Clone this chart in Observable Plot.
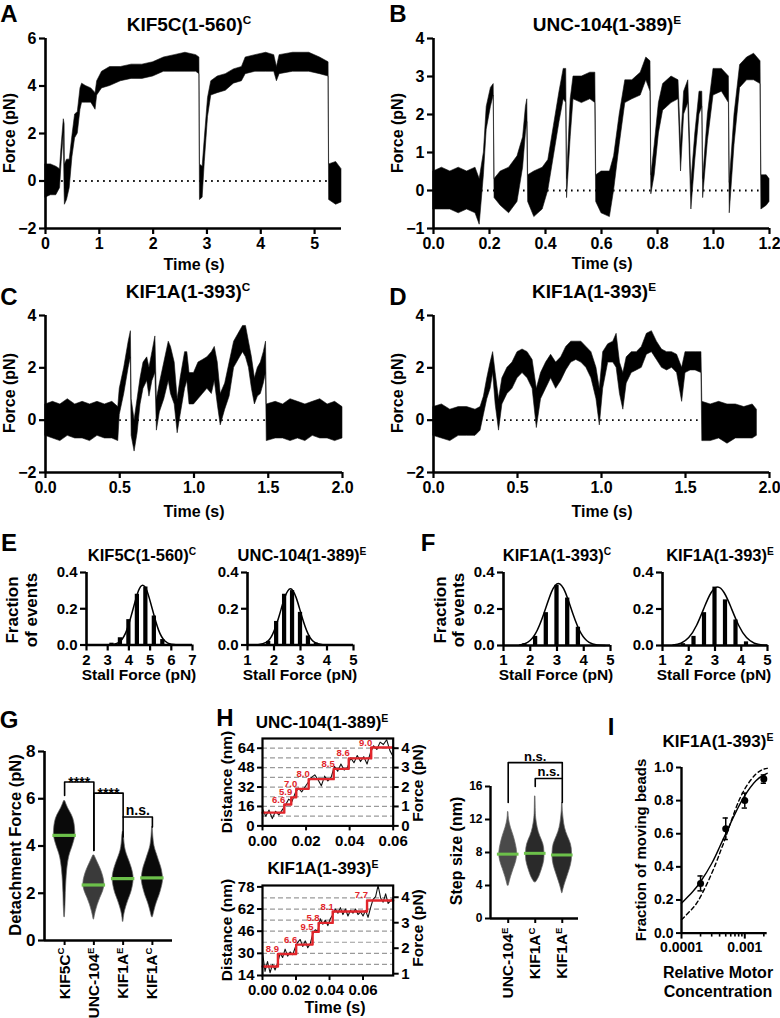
<!DOCTYPE html>
<html><head><meta charset="utf-8">
<script src="https://cdn.jsdelivr.net/npm/d3@7"></script>
<script src="https://cdn.jsdelivr.net/npm/@observablehq/plot@0.6"></script>
<style>
body{margin:0;background:#fff;}
#fig{position:relative;width:780px;height:1018px;overflow:hidden;font-family:"Liberation Sans",Arial,sans-serif;font-weight:bold;color:#000;background:#fff;}
.lbl{position:absolute;white-space:nowrap;line-height:1;}
.lbl sup{font-size:0.62em;vertical-align:0.55em;line-height:0;}
</style></head><body><div id="fig"></div>
<script>
// ---------- DATA ----------
// Panel A: KIF5C(1-560)C trace envelope (time s, lower / upper force pN)
const traceA_t  = [0,0.1,0.2,0.27,0.30,0.34,0.355,0.36,0.40,0.45,0.50,0.55,0.60,0.65,0.68,0.75,0.85,0.93,0.96,1.05,1.2,1.4,1.6,1.8,2.0,2.2,2.4,2.6,2.8,2.86,2.87,2.92,2.96,3.02,3.08,3.2,3.35,3.5,3.65,3.72,3.9,4.1,4.25,4.3,4.35,4.6,4.9,5.1,5.26,5.27,5.4,5.5];
const traceA_lo = [-0.7,-0.6,-0.6,-0.3,0.8,2.0,-0.5,-1.0,-0.8,-0.3,1.0,1.8,2.0,3.0,3.3,3.3,3.3,3.0,3.6,3.9,4.0,4.2,4.3,4.3,4.4,4.6,4.6,4.6,4.6,4.5,-0.8,-0.7,0.8,2.7,3.6,3.7,3.8,4.1,4.2,4.5,4.6,4.6,4.6,4.2,4.5,4.6,4.6,4.5,4.4,-0.8,-1.0,-0.9];
const traceA_hi = [0.7,0.7,0.6,0.5,1.5,2.6,2.4,0.7,0.9,0.9,1.9,2.8,2.9,3.9,4.1,4.0,3.9,3.7,4.2,4.6,4.8,4.8,4.9,4.9,5.0,5.2,5.3,5.4,5.3,5.2,0.7,0.6,1.8,3.5,4.2,4.4,4.5,4.7,4.8,5.2,5.3,5.4,5.3,4.8,5.3,5.4,5.4,5.2,5.0,0.7,0.8,0.5];
// Panel B: UNC-104(1-389)E
const traceB_t  = [0,0.03,0.06,0.09,0.12,0.15,0.165,0.18,0.19,0.205,0.215,0.218,0.24,0.27,0.30,0.32,0.33,0.335,0.338,0.36,0.39,0.41,0.43,0.45,0.465,0.474,0.477,0.49,0.50,0.53,0.56,0.578,0.581,0.60,0.63,0.645,0.665,0.685,0.71,0.74,0.76,0.775,0.778,0.79,0.805,0.82,0.85,0.875,0.884,0.895,0.91,0.921,0.935,0.95,0.96,0.963,0.98,1.00,1.03,1.055,1.058,1.075,1.095,1.12,1.145,1.168,1.171,1.19,1.2];
const traceB_lo = [-0.5,-0.5,-0.5,-0.6,-0.5,-0.6,-0.9,0.4,1.6,2.2,2.5,-0.2,-0.4,-0.6,-0.3,0.6,1.5,1.8,-0.3,-0.7,-0.5,0.0,0.9,1.8,2.4,2.3,-0.2,1.4,2.4,2.3,2.4,2.3,-0.3,-0.6,-0.7,0.0,1.2,2.3,2.4,2.5,2.9,2.6,-0.1,0.4,1.5,2.1,2.3,2.4,0.5,2.0,2.3,-0.5,0.8,2.0,2.2,-0.2,1.3,2.5,2.6,2.3,-0.6,1.2,2.7,2.9,2.9,2.8,-0.5,-0.4,-0.3];
const traceB_hi = [0.5,0.6,0.5,0.6,0.5,0.6,0.3,1.0,2.2,2.7,2.8,0.3,0.5,0.6,0.9,1.4,2.2,2.4,0.4,0.5,0.6,0.8,1.7,2.6,3.2,3.2,0.3,2.4,3.0,3.0,3.1,3.1,0.4,0.5,0.5,0.9,2.0,2.9,2.9,3.1,3.5,3.4,0.4,1.2,2.3,2.8,3.0,2.9,1.2,2.6,2.9,0.2,1.5,2.6,2.6,0.3,2.0,3.2,3.2,3.0,0.2,2.0,3.3,3.5,3.6,3.4,0.4,0.4,0.3];
// Panel C: KIF1A(1-393)C
const traceC_t  = [0,0.05,0.10,0.15,0.20,0.25,0.30,0.35,0.40,0.45,0.49,0.50,0.53,0.56,0.575,0.58,0.60,0.62,0.64,0.66,0.685,0.70,0.72,0.74,0.75,0.77,0.80,0.83,0.845,0.87,0.89,0.91,0.94,0.955,0.97,1.00,1.03,1.06,1.09,1.12,1.14,1.16,1.18,1.21,1.24,1.27,1.30,1.33,1.35,1.37,1.39,1.41,1.43,1.45,1.47,1.485,1.49,1.55,1.60,1.65,1.70,1.75,1.80,1.85,1.90,1.95,2.0];
const traceC_lo = [-0.6,-0.7,-0.8,-0.6,-0.7,-0.7,-0.8,-0.6,-0.7,-0.7,-0.8,0.2,1.0,2.0,2.4,-0.6,-1.2,-0.5,0.6,1.2,1.5,0.9,1.5,1.8,-0.4,0.3,0.8,1.5,1.0,0.6,-0.5,0.2,1.2,1.5,0.6,0.6,0.8,1.0,1.2,1.0,1.5,0.6,-0.2,0.4,0.9,2.0,2.3,2.6,2.4,2.0,1.2,0.6,0.9,1.0,1.4,1.8,-0.8,-0.7,-0.7,-0.8,-0.7,-0.8,-0.6,-0.7,-0.7,-0.8,-0.7];
const traceC_hi = [0.6,0.7,0.6,0.8,0.6,0.7,0.6,0.7,0.6,0.7,0.5,1.2,2.0,3.0,3.4,0.8,0.0,0.8,1.6,2.2,2.4,2.0,2.6,3.2,0.8,1.4,2.2,3.0,2.8,2.2,0.8,1.6,2.6,2.6,1.8,1.8,2.2,2.3,2.4,2.6,2.8,2.2,1.0,1.4,2.2,3.0,3.3,3.6,3.6,3.0,2.4,1.6,2.0,2.2,2.6,3.0,0.6,0.7,0.6,0.8,0.7,0.6,0.7,0.8,0.6,0.7,0.5];
// Panel D: KIF1A(1-393)E
const traceD_t  = [0,0.05,0.10,0.15,0.20,0.25,0.28,0.30,0.32,0.34,0.355,0.37,0.39,0.41,0.44,0.47,0.50,0.53,0.56,0.59,0.615,0.64,0.67,0.70,0.73,0.76,0.79,0.82,0.85,0.88,0.91,0.94,0.97,0.99,1.01,1.04,1.07,1.09,1.11,1.13,1.15,1.18,1.21,1.24,1.27,1.30,1.33,1.36,1.39,1.42,1.45,1.48,1.50,1.53,1.56,1.595,1.60,1.65,1.70,1.75,1.80,1.85,1.90,1.925];
const traceD_lo = [-0.6,-0.7,-0.8,-0.6,-0.6,-0.6,-0.4,0.2,0.8,1.2,1.8,0.6,-0.4,0.6,1.0,1.2,1.6,1.8,1.6,1.2,-0.3,0.8,1.2,1.6,1.2,1.5,1.9,2.2,2.3,2.2,2.0,1.6,0.8,-0.2,1.2,2.2,2.2,2.0,1.0,0.4,1.4,1.8,1.9,2.0,2.5,2.6,2.3,2.0,1.9,2.0,1.8,0.7,1.8,1.9,1.9,1.8,-0.8,-0.8,-0.7,-0.9,-0.7,-0.7,-0.7,-0.6];
const traceD_hi = [0.5,0.6,0.4,0.5,0.5,0.4,0.5,0.9,1.6,2.2,2.6,1.8,0.8,1.6,2.0,2.2,2.6,2.7,2.6,2.3,1.2,1.8,2.2,2.5,2.2,2.4,2.8,3.0,3.0,3.0,2.8,2.6,2.0,1.2,2.6,2.9,3.0,3.3,2.2,1.8,2.4,2.6,2.6,2.8,3.3,3.4,3.0,2.7,2.6,2.6,2.5,2.0,2.6,2.6,2.6,2.6,0.7,0.6,0.7,0.6,0.6,0.5,0.6,0.4];
// dotted zero-line spans
const zeroA = [0.3, 5.26], zeroB = [0.15, 1.2], zeroC = [0.5, 1.49], zeroD = [0.28, 1.6];

// Panels E/F: stall force histograms (bin centre, fraction) and Gaussian fit points
const histE1_x = [3.2,3.6,4.0,4.4,4.8,5.2,5.6], histE1_f = [0.01,0.04,0.14,0.28,0.32,0.16,0.03];
const fitE1_x = [3.0,3.3,3.6,3.9,4.2,4.45,4.65,4.85,5.1,5.4,5.7,6.0,6.3], fitE1_y = [0.0004,0.0037,0.0217,0.082,0.200,0.299,0.33,0.299,0.200,0.082,0.0217,0.0037,0.0004];
const histE2_x = [1.8,2.1,2.4,2.7,3.0,3.3,3.6], histE2_f = [0.02,0.13,0.28,0.30,0.18,0.05,0.01];
const fitE2_x = [1.4,1.7,1.95,2.2,2.4,2.62,2.84,3.04,3.29,3.54,3.84], fitE2_y = [0.0014,0.0141,0.060,0.163,0.260,0.31,0.260,0.163,0.060,0.0141,0.0014];
const histF1_x = [1.8,2.2,2.6,3.0,3.4,3.8], histF1_f = [0.01,0.05,0.18,0.33,0.26,0.10];
const fitF1_x = [1.6,1.9,2.2,2.5,2.8,3.05,3.3,3.6,3.9,4.2,4.5,4.8], fitF1_y = [0.0029,0.017,0.066,0.171,0.295,0.34,0.295,0.171,0.066,0.017,0.0029,0.0003];
const histF2_x = [1.8,2.2,2.6,3.0,3.4,3.8,4.2], histF2_f = [0.01,0.05,0.18,0.32,0.25,0.14,0.02];
const fitF2_x = [1.4,1.7,2.0,2.3,2.6,2.85,3.1,3.35,3.6,3.9,4.2,4.5,4.8,5.0], fitF2_y = [0.0027,0.0125,0.0433,0.111,0.212,0.289,0.32,0.289,0.212,0.111,0.0433,0.0125,0.0027,0.0009];

// Panel G: detachment force distributions (value pN, half-width in category units)
const catsG = ["KIF5C","UNC-104","KIF1A","KIF1A"], supsG = ["C","E","E","C"];
const violinG = [
  [[1.0,0.01],[1.5,0.03],[2.0,0.04],[2.5,0.06],[3.0,0.09],[3.5,0.15],[3.8,0.22],[4.1,0.3],[4.4,0.36],[4.7,0.36],[5.0,0.33],[5.3,0.25],[5.6,0.12],[5.9,0.02]],
  [[0.9,0.01],[1.2,0.06],[1.5,0.13],[1.8,0.22],[2.1,0.32],[2.4,0.36],[2.7,0.32],[3.0,0.24],[3.3,0.13],[3.6,0.02]],
  [[0.8,0.01],[1.1,0.04],[1.4,0.1],[1.7,0.18],[2.0,0.27],[2.3,0.33],[2.6,0.36],[2.9,0.33],[3.2,0.26],[3.5,0.17],[3.8,0.09],[4.1,0.05],[4.4,0.03],[4.6,0.01]],
  [[1.0,0.02],[1.3,0.08],[1.6,0.15],[1.9,0.24],[2.2,0.31],[2.5,0.36],[2.8,0.35],[3.1,0.3],[3.4,0.22],[3.7,0.14],[4.0,0.07],[4.4,0.03],[4.8,0.01]]
];
const medianG = [4.45, 2.35, 2.62, 2.65];
const brG_from = [1,2,3], brG_to = [2,3,4], brG_top = [6.71,6.24,5.23], brG_legL = [6.14,3.81,4.38], brG_legR = [3.81,5.23,4.8], brG_text = ["****","****","n.s."];

// Panel H: step traces (time s, distance nm) and step fits
const hTopT = [0,0.0015,0.003,0.0045,0.006,0.0075,0.009,0.0105,0.012,0.0135,0.015,0.0165,0.018,0.0195,0.021,0.0225,0.024,0.0255,0.027,0.0285,0.03,0.0315,0.033,0.0345,0.036,0.0375,0.039,0.0405,0.042,0.0435,0.045,0.0465,0.048,0.0495,0.051,0.0525,0.054,0.0555,0.057,0.0585,0.06];
const hTopD = [14,8,13,6,12,9,13,17,22,20,27,31,28,32,36,40,42,38,33,41,37,40,49,45,51,46,48,56,52,58,53,57,51,60,66,63,69,67,71,62,57];
const stepTopT = [0.0100,0.0132,0.0155,0.0212,0.0327,0.0396,0.0499];
const stepTopSize = [6.6,5.9,7.0,8.0,8.5,8.6,9.0];
const stepTopLevel = [10.9,17.6,23.5,30.5,38.5,47.0,55.6,64.6];
const gridTop = [8,16,24,32,40,48,56,64];
const hBotT = [0,0.0015,0.003,0.0045,0.006,0.0075,0.009,0.0105,0.012,0.0135,0.015,0.0165,0.018,0.0195,0.021,0.0225,0.024,0.0255,0.027,0.0285,0.03,0.0315,0.033,0.0345,0.036,0.0375,0.039,0.0405,0.042,0.0435,0.045,0.0465,0.048,0.0495,0.051,0.0525,0.054,0.0555,0.057,0.0585,0.06,0.0615,0.063,0.0645,0.066,0.0675,0.069,0.0705,0.072,0.0735,0.075,0.078];
const hBotD = [31,17,24,16,22,18,23,30,27,33,28,31,29,34,38,40,35,39,34,37,44,47,46,55,51,54,50,55,58,62,59,63,58,62,57,61,59,62,58,60,57,61,56,63,69,71,79,70,67,73,66,70];
const stepBotT = [0.0092,0.0201,0.0299,0.0335,0.0419,0.0624];
const stepBotSize = [8.9,6.6,9.5,5.8,8.1,7.7];
const stepBotLevel = [20.5,29.5,36.3,45.5,52.0,60.2,68.2];
const gridBot = [22,30,38,46,54,62,70];

// Step-size panel
const catsS = ["UNC-104","KIF1A","KIF1A"], supsS = ["E","C","E"];
const violinS = [
  [[4.0,0.02],[5.0,0.1],[6.0,0.2],[7.0,0.3],[8.0,0.33],[9.0,0.28],[10.0,0.2],[11.0,0.1],[12.0,0.03],[12.9,0.01]],
  [[4.4,0.03],[5.0,0.14],[6.0,0.25],[7.0,0.33],[8.0,0.34],[9.0,0.3],[10.0,0.18],[11.0,0.09],[12.0,0.04],[13.0,0.02],[14.8,0.01]],
  [[3.1,0.01],[4.0,0.08],[5.0,0.18],[6.0,0.28],[7.0,0.35],[8.0,0.36],[9.0,0.32],[10.0,0.2],[11.0,0.1],[12.0,0.05],[13.0,0.02],[14.0,0.01]]
];
const medianS = [7.8, 7.9, 7.7];
const brS_from = [1,2], brS_to = [3,3], brS_top = [18.9,16.97], brS_legL = [14.06,16.0], brS_legR = [16.97,14.06], brS_text = ["n.s.","n.s."];

// Panel I
const concI = [0.0002,0.0005,0.001,0.002], fracI = [0.30,0.63,0.80,0.93], errI = [0.045,0.065,0.045,0.025];
const fitSolid_x = [0.0001,0.00015,0.0002,0.0003,0.0004,0.0005,0.0007,0.001,0.0015,0.002,0.00226];
const fitSolid_y = [0.18,0.25,0.31,0.42,0.52,0.60,0.72,0.83,0.92,0.955,0.965];
const fitDash_x = [0.0001,0.00015,0.0002,0.0003,0.0004,0.0005,0.0007,0.001,0.0015,0.002,0.00226];
const fitDash_y = [0.08,0.15,0.22,0.36,0.48,0.58,0.74,0.87,0.96,0.99,0.995];
const majorTicksI = [0.0001,0.001], majorLabelsI = ["0.0001","0.001"];
const minorTicksI = [0.0002,0.0003,0.0004,0.0005,0.0006,0.0007,0.0008,0.0009,0.002];

// ---------- HELPERS ----------
const FONT = '"Liberation Sans", Arial, sans-serif';
const RED = "#e1252b", GREEN = "#6cc04a";
const fig = document.getElementById("fig");
function place(o) {
  const m = 80;
  const W = o.x1 - o.x0, H = o.y1 - o.y0;
  const svg = Plot.plot({
    width: W + 2*m, height: H + 2*m,
    marginLeft: m, marginRight: m, marginTop: m, marginBottom: m,
    x: o.x, y: o.y,
    style: {fontFamily: FONT, fontWeight: "bold", fontSize: o.fs + "px", background: "transparent", overflow: "visible", color: "#000"},
    marks: o.marks
  });
  svg.style.position = "absolute";
  svg.style.left = (o.x0 - m) + "px";
  svg.style.top = (o.y0 - m) + "px";
  svg.style.maxWidth = "none";
  fig.appendChild(svg);
  return svg;
}
function lbl(html, cx, cy, size, rot) {
  const d = document.createElement("div");
  d.className = "lbl";
  d.innerHTML = html;
  d.style.left = cx + "px"; d.style.top = cy + "px"; d.style.fontSize = size + "px";
  d.style.transform = "translate(-50%,-50%)" + (rot ? " rotate(-90deg)" : "");
  fig.appendChild(d);
}
function letter(ch, x, y) {
  const d = document.createElement("div");
  d.className = "lbl"; d.textContent = ch;
  d.style.left = x + "px"; d.style.top = y + "px"; d.style.fontSize = "24px";
  d.style.transform = "translate(-50%,-50%)";
  fig.appendChild(d);
}
const rows3 = (t, a, b) => t.map((v, i) => ({t: v, lo: a[i], hi: b[i]}));
const rows2 = (x, y) => x.map((v, i) => ({x: v, y: y[i]}));
const AX = 2.6;
function axes(xmin, ymin, xt, yt, xf, yf) {
  return [
    Plot.axisX({ticks: xt, tickFormat: xf, tickSize: 6, tickPadding: 3, strokeWidth: 2.2, label: null}),
    Plot.axisY({ticks: yt, tickFormat: yf, tickSize: 6, tickPadding: 3, strokeWidth: 2.2, label: null}),
    Plot.ruleX([xmin], {strokeWidth: AX}),
    Plot.ruleY([ymin], {strokeWidth: AX})
  ];
}
function addSups(svg, sups) {
  const texts = svg.querySelectorAll('g[aria-label="x-axis tick label"] text');
  texts.forEach((t, i) => {
    const ts = document.createElementNS("http://www.w3.org/2000/svg", "tspan");
    ts.textContent = sups[i];
    ts.setAttribute("dy", "-0.55em");
    ts.setAttribute("font-size", "0.62em");
    t.appendChild(ts);
  });
}
const f1 = d3.format(".1f"), f2 = d3.format(".2f"), f0 = d3.format("d");

// ---------- PANELS A-D ----------
function tracePanel(box, t, lo, hi, xd, yd, xt, yt, xf, zero) {
  place({
    ...box, fs: 16,
    x: {domain: xd}, y: {domain: yd},
    marks: [
      Plot.ruleY([{y: 0, a: zero[0], b: zero[1]}], {y: "y", x1: "a", x2: "b", strokeDasharray: "1.6,4.4", strokeWidth: 1.8}),
      Plot.areaY(rows3(t, lo, hi), {x: "t", y1: "lo", y2: "hi", fill: "#000", stroke: "#111", strokeWidth: 0.6}),
      ...axes(xd[0], yd[0], xt, yt, xf, f0)
    ]
  });
}
tracePanel({x0: 45, x1: 341, y0: 38, y1: 228}, traceA_t, traceA_lo, traceA_hi, [0, 5.5], [-2, 6], [0,1,2,3,4,5], [-2,0,2,4,6], f0, zeroA);
tracePanel({x0: 433, x1: 769, y0: 38, y1: 228}, traceB_t, traceB_lo, traceB_hi, [0, 1.2], [-1, 4], [0,0.2,0.4,0.6,0.8,1.0,1.2], [-1,0,1,2,3,4], f1, zeroB);
tracePanel({x0: 45, x1: 342, y0: 315, y1: 472}, traceC_t, traceC_lo, traceC_hi, [0, 2], [-2, 4], [0,0.5,1,1.5,2], [-2,0,2,4], f1, zeroC);
tracePanel({x0: 433, x1: 769, y0: 315, y1: 472}, traceD_t, traceD_lo, traceD_hi, [0, 2], [-2, 4], [0,0.5,1,1.5,2], [-2,0,2,4], f1, zeroD);

// ---------- PANELS E/F ----------
function histPanel(box, hx, hf, fx, fy, xd, xt, bw) {
  place({
    ...box, fs: 15,
    x: {domain: xd}, y: {domain: [0, 0.4]},
    marks: [
      Plot.rect(rows2(hx, hf), {x1: d => d.x - bw, x2: d => d.x + bw, y1: 0, y2: "y", fill: "#000"}),
      Plot.line(rows2(fx, fy), {x: "x", y: "y", curve: "natural", strokeWidth: 1.5}),
      ...axes(xd[0], 0, xt, [0, 0.2, 0.4], f0, f1)
    ]
  });
}
histPanel({x0: 86, x1: 192, y0: 572, y1: 644.5}, histE1_x, histE1_f, fitE1_x, fitE1_y, [2, 7], [2,3,4,5,6,7], 0.1);
histPanel({x0: 247, x1: 353, y0: 572, y1: 644.5}, histE2_x, histE2_f, fitE2_x, fitE2_y, [1, 5], [1,2,3,4,5], 0.08);
histPanel({x0: 503, x1: 610, y0: 572, y1: 645}, histF1_x, histF1_f, fitF1_x, fitF1_y, [1, 5], [1,2,3,4,5], 0.08);
histPanel({x0: 662, x1: 767, y0: 572, y1: 645}, histF2_x, histF2_f, fitF2_x, fitF2_y, [1, 5], [1,2,3,4,5], 0.08);

// ---------- violin + bracket helpers ----------
function violins(profiles, fills) {
  return profiles.map((p, i) => Plot.areaX(p.map(([v, w]) => ({v, w})), {
    y: "v", x1: d => (i + 1) - d.w, x2: d => (i + 1) + d.w, fill: fills[i], stroke: "#666", strokeWidth: 0.7, curve: "natural"
  }));
}
function brackets(from, to, top, legL, legR, text, fsz) {
  const pts = [];
  from.forEach((f, i) => {
    pts.push({id: i, x: f, y: legL[i]}, {id: i, x: f, y: top[i]}, {id: i, x: to[i], y: top[i]}, {id: i, x: to[i], y: legR[i]});
  });
  const idx = from.map((_, i) => i);
  const star = idx.filter(i => text[i].startsWith("*")), ns = idx.filter(i => !text[i].startsWith("*"));
  return [
    Plot.line(pts, {x: "x", y: "y", z: "id", strokeWidth: 1.6}),
    Plot.text(star, {x: i => (from[i] + to[i]) / 2, y: i => top[i], text: i => text[i], lineAnchor: "bottom", dy: 5, fontSize: fsz}),
    Plot.text(ns, {x: i => (from[i] + to[i]) / 2, y: i => top[i], text: i => text[i], lineAnchor: "bottom", dy: -2, fontSize: fsz})
  ];
}

// ---------- PANEL G ----------
const svgG = place({
  x0: 44, x1: 172, y0: 751, y1: 940, fs: 17,
  x: {domain: [0.313, 4.687]}, y: {domain: [0, 8]},
  marks: [
    ...violins(violinG, ["#0a0a0a", "#3a3a3a", "#0a0a0a", "#0a0a0a"]),
    Plot.ruleY(medianG.map((m, i) => ({m, c: i + 1})), {y: "m", x1: d => d.c - 0.4, x2: d => d.c + 0.4, stroke: GREEN, strokeWidth: 3.2}),
    ...brackets(brG_from, brG_to, brG_top, brG_legL, brG_legR, brG_text, 14),
    Plot.axisX({ticks: [1,2,3,4], tickFormat: d => catsG[d - 1], tickRotate: -90, tickSize: 5, tickPadding: 2, strokeWidth: 2, fontSize: 15.5, label: null}),
    Plot.axisY({ticks: [0,2,4,6,8], tickFormat: f0, tickSize: 6, tickPadding: 3, strokeWidth: 2.2, label: null}),
    Plot.ruleX([0.313], {strokeWidth: AX}),
    Plot.ruleY([0], {strokeWidth: AX})
  ]
});
addSups(svgG, supsG);

// ---------- PANEL H ----------
function stepPanel(box, xd, yd, trT, trD, sT, sSize, sLevel, grid, yt, fd, ft, xt) {
  const fit = [{t: xd[0], d: sLevel[0]}, ...sT.map((t, i) => ({t, d: sLevel[i + 1]})), {t: xd[1], d: sLevel[sLevel.length - 1]}];
  const labs = sT.map((t, i) => ({t, d: sLevel[i + 1], s: sSize[i]}));
  place({
    ...box, fs: 15,
    x: {domain: xd}, y: {domain: yd},
    marks: [
      Plot.ruleY(grid, {stroke: "#9a9a9a", strokeDasharray: "5,3", strokeWidth: 1.2}),
      Plot.line(rows2(trT, trD), {x: "x", y: "y", strokeWidth: 1.1, stroke: "#111"}),
      Plot.line(fit, {x: "t", y: "d", curve: "step-after", stroke: RED, strokeWidth: 2.4}),
      Plot.text(labs, {x: "t", y: "d", text: d => f1(d.s), textAnchor: "end", dx: 1, dy: -5, fill: RED, fontSize: 9.5}),
      Plot.frame({strokeWidth: 2.2}),
      Plot.axisX({ticks: xt, tickFormat: f2, tickSize: 5, tickPadding: 4, strokeWidth: 2, label: null}),
      Plot.axisY({ticks: yt, tickFormat: f0, tickSize: 5, tickPadding: 3, strokeWidth: 2, label: null})
    ]
  });
  // right-hand force axis (same pixel range, force scale)
  place({
    ...box, fs: 15,
    y: {domain: fd},
    marks: [Plot.axisY({anchor: "right", ticks: ft, tickFormat: f0, tickSize: 5, tickPadding: 3, strokeWidth: 2, label: null})]
  });
}
stepPanel({x0: 262, x1: 392.7, y0: 738.3, y1: 825.7}, [0, 0.06], [0, 72], hTopT, hTopD, stepTopT, stepTopSize, stepTopLevel, gridTop, [0,16,32,48,64], [0, 4.5], [0,1,2,3,4], [0,0.02,0.04,0.06]);
stepPanel({x0: 262, x1: 392.7, y0: 885, y1: 975}, [0, 0.078], [14, 79], hBotT, hBotD, stepBotT, stepBotSize, stepBotLevel, gridBot, [14,30,46,62,78], [0.93, 4.46], [1,2,3,4], [0,0.02,0.04,0.06]);

// ---------- STEP SIZE PANEL ----------
const svgS = place({
  x0: 490, x1: 578, y0: 785.7, y1: 917.7, fs: 12,
  x: {domain: [0.345, 3.6]}, y: {domain: [0, 16]},
  marks: [
    ...violins(violinS, ["#4a4a4a", "#2a2a2a", "#2a2a2a"]),
    Plot.ruleY(medianS.map((m, i) => ({m, c: i + 1})), {y: "m", x1: d => d.c - 0.4, x2: d => d.c + 0.4, stroke: GREEN, strokeWidth: 3}),
    ...brackets(brS_from, brS_to, brS_top, brS_legL, brS_legR, brS_text, 13),
    Plot.axisX({ticks: [1,2,3], tickFormat: d => catsS[d - 1], tickRotate: -90, tickSize: 5, tickPadding: 4, strokeWidth: 2, fontSize: 15.5, label: null}),
    Plot.axisY({ticks: [0,4,8,12,16], tickFormat: f0, tickSize: 5, tickPadding: 3, strokeWidth: 2, label: null}),
    Plot.ruleX([0.345], {strokeWidth: 2.4}),
    Plot.ruleY([0], {strokeWidth: 2.4})
  ]
});
addSups(svgS, supsS);

// ---------- PANEL I ----------
const ptsI = concI.map((c, i) => ({c, f: fracI[i], e: errI[i]}));
place({
  x0: 681, x1: 766.7, y0: 766.7, y1: 932.3, fs: 14,
  x: {type: "log", domain: [0.0001, 0.00226]}, y: {domain: [0, 1]},
  marks: [
    Plot.line(rows2(fitDash_x, fitDash_y), {x: "x", y: "y", curve: "natural", strokeDasharray: "4,3", strokeWidth: 1.4}),
    Plot.line(rows2(fitSolid_x, fitSolid_y), {x: "x", y: "y", curve: "natural", strokeWidth: 1.4}),
    Plot.ruleX(ptsI, {x: "c", y1: d => d.f - d.e, y2: d => d.f + d.e, strokeWidth: 1.5}),
    Plot.ruleY(ptsI, {y: d => d.f + d.e, x1: d => d.c / 1.1, x2: d => d.c * 1.1, strokeWidth: 1.5}),
    Plot.ruleY(ptsI, {y: d => d.f - d.e, x1: d => d.c / 1.1, x2: d => d.c * 1.1, strokeWidth: 1.5}),
    Plot.dot(ptsI, {x: "c", y: "f", r: 3.5, fill: "#000"}),
    Plot.axisX({ticks: minorTicksI, tickFormat: () => "", tickSize: 4, strokeWidth: 1.6, label: null}),
    Plot.axisX({ticks: majorTicksI, tickFormat: d => majorLabelsI[majorTicksI.indexOf(d)], tickSize: 6, tickPadding: 3, strokeWidth: 2, label: null}),
    Plot.axisY({ticks: [0,0.2,0.4,0.6,0.8,1.0], tickFormat: f1, tickSize: 5, tickPadding: 3, strokeWidth: 2, label: null}),
    Plot.ruleX([0.0001], {strokeWidth: 2.4}),
    Plot.ruleY([0], {strokeWidth: 2.4})
  ]
});

// ---------- TEXT ----------
letter("A", 9, 14); letter("B", 398, 14); letter("C", 9, 297); letter("D", 398, 297);
letter("E", 9, 543); letter("F", 428, 543); letter("G", 9, 720); letter("H", 225, 718); letter("I", 611, 727);

lbl("KIF5C(1-560)<sup>C</sup>", 189, 24, 19);
lbl("UNC-104(1-389)<sup>E</sup>", 607, 24, 19);
lbl("KIF1A(1-393)<sup>C</sup>", 188, 291, 19);
lbl("KIF1A(1-393)<sup>E</sup>", 594, 291, 19);
for (const [x, y] of [[10,133],[398,133],[10,393],[398,393]]) lbl("Force (pN)", x, y, 16, true);
for (const [x, y] of [[194,265],[602,264],[194,512],[602,512]]) lbl("Time (s)", x, y, 16);

lbl("KIF5C(1-560)<sup>C</sup>", 142, 555, 16.5);
lbl("UNC-104(1-389)<sup>E</sup>", 302, 555, 16.5);
lbl("KIF1A(1-393)<sup>C</sup>", 557, 555, 16.5);
lbl("KIF1A(1-393)<sup>E</sup>", 720, 555, 16.5);
lbl("Fraction", 12, 610, 17, true); lbl("of events", 31, 610, 17, true);
lbl("Fraction", 440, 610, 17, true); lbl("of events", 458, 610, 17, true);
for (const x of [139, 300, 556, 714]) lbl("Stall Force (pN)", x, 675, 15.5);

lbl("Detachment Force (pN)", 15, 845, 16.5, true);

lbl("UNC-104(1-389)<sup>E</sup>", 322, 722, 17);
lbl("KIF1A(1-393)<sup>E</sup>", 323, 868, 17);
lbl("Distance (nm)", 227, 782, 15.5, true);
lbl("Distance (nm)", 227, 930, 15.5, true);
lbl("Force (pN)", 418, 783, 15.5, true);
lbl("Force (pN)", 418, 928, 15.5, true);
lbl("Time (s)", 335, 1008, 16);

lbl("Step size (nm)", 457, 851, 16, true);

lbl("KIF1A(1-393)<sup>E</sup>", 718, 741, 17);
lbl("Fraction of moving beads", 640, 850, 15, true);
lbl("Relative Motor", 718, 973, 16);
lbl("Concentration", 718, 992, 16);
</script></body></html>
